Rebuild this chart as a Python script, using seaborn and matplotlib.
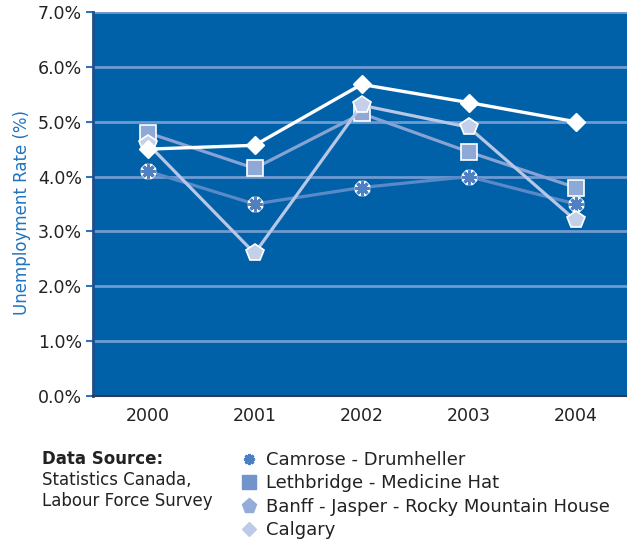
import matplotlib
matplotlib.use('Agg')
import matplotlib.pyplot as plt
from matplotlib.lines import Line2D
import seaborn as sns
import pandas as pd

years = ['2000', '2001', '2002', '2003', '2004']
camrose = [4.1, 3.5, 3.8, 4.0, 3.5]
lethbridge = [4.8, 4.15, 5.15, 4.45, 3.8]
banff = [4.6, 2.6, 5.3, 4.9, 3.2]
calgary = [4.5, 4.57, 5.68, 5.35, 5.0]
names = ['Camrose - Drumheller', 'Lethbridge - Medicine Hat',
         'Banff - Jasper - Rocky Mountain House', 'Calgary']
yticks = [0, 1, 2, 3, 4, 5, 6, 7]

pos = list(range(len(years)))
df = pd.DataFrame({'pos': pos, 'camrose': camrose, 'lethbridge': lethbridge,
                   'banff': banff, 'calgary': calgary})

sns.set_theme(style='white')
plt.rcParams['font.family'] = ['DejaVu Sans']

fig = plt.figure(figsize=(6.27, 5.4), dpi=100)
ax = fig.add_axes([93 / 627, 1 - 396 / 540, 1 - 93 / 627, (396 - 12) / 540])
ax.set_facecolor('#0061a9')

grid_col = '#6d9bd2'
for v in yticks[1:]:
    ax.axhline(v, color=grid_col, lw=2, zorder=1)

# Camrose: asterisk with white outline
sns.lineplot(data=df, x='pos', y='camrose', ax=ax, color='#5a89c8', lw=2.3, zorder=3)
sns.lineplot(data=df, x='pos', y='camrose', ax=ax, linestyle='', marker=(8, 2, 0),
             markersize=11, mew=4.5, mec='white', zorder=3.1)
sns.lineplot(data=df, x='pos', y='camrose', ax=ax, linestyle='', marker=(8, 2, 0),
             markersize=10, mew=2.2, mec='#4f80c2', zorder=3.2)

sns.lineplot(data=df, x='pos', y='lethbridge', ax=ax, color='#86a3d3', lw=2.3,
             marker='s', markersize=11, mfc='#8fa9d6', mec='white', mew=1.2, zorder=4)
sns.lineplot(data=df, x='pos', y='banff', ax=ax, color='#b7c7e5', lw=2.3,
             marker='p', markersize=13, mfc='#c4d0ea', mec='white', mew=1.2, zorder=5)
sns.lineplot(data=df, x='pos', y='calgary', ax=ax, color='white', lw=2.4,
             marker='D', markersize=9.5, mfc='white', mec='white', mew=1, zorder=6)

ax.set_xlim(-0.51, 4.48)
ax.set_ylim(0, 7)
ax.set_xticks(pos)
ax.set_xticklabels(years)
ax.set_yticks(yticks)
ax.set_yticklabels([f'{v:.1f}%' for v in yticks])
ax.tick_params(axis='x', length=0, pad=8, labelsize=12.5, labelcolor='#222222')
ax.tick_params(axis='y', length=5, width=1.5, color='#2f73b8', pad=3,
               labelsize=12.5, labelcolor='#222222', left=True)
ax.set_xlabel('')
ax.set_ylabel('Unemployment Rate (%)', color='#1f74c0', fontsize=12)
ax.yaxis.set_label_coords(-0.116, 0.479)
for s in ['top', 'right']:
    ax.spines[s].set_visible(False)
ax.spines['left'].set_color('#1d4f8a')
ax.spines['left'].set_linewidth(2)
ax.spines['bottom'].set_color('#2b3a55')
ax.spines['bottom'].set_linewidth(1.5)

# legend
handles = [
    Line2D([], [], linestyle='', marker=(8, 2, 0), markersize=8, mew=2, mec='#4a7fc1'),
    Line2D([], [], linestyle='', marker='s', markersize=10, mfc='#7195ca', mec='#7195ca'),
    Line2D([], [], linestyle='', marker='p', markersize=11, mfc='#93acd8', mec='#93acd8'),
    Line2D([], [], linestyle='', marker='D', markersize=7.5, mfc='#bccbe7', mec='#bccbe7'),
]
fig.legend(handles, names, loc='upper left', bbox_to_anchor=(242 / 627, 1 - 451 / 540),
           frameon=False, handlelength=0.8, handletextpad=0.55, labelspacing=0.3,
           borderpad=0, borderaxespad=0, fontsize=13, labelcolor='#222222')

fig.text(42 / 627, 1 - 459 / 540, 'Data Source:', fontsize=12, fontweight='bold',
         color='#222222', va='center')
fig.text(42 / 627, 1 - 480 / 540, 'Statistics Canada,', fontsize=12,
         color='#222222', va='center')
fig.text(42 / 627, 1 - 501 / 540, 'Labour Force Survey', fontsize=12,
         color='#222222', va='center')

fig.savefig('out.png', dpi=100)
